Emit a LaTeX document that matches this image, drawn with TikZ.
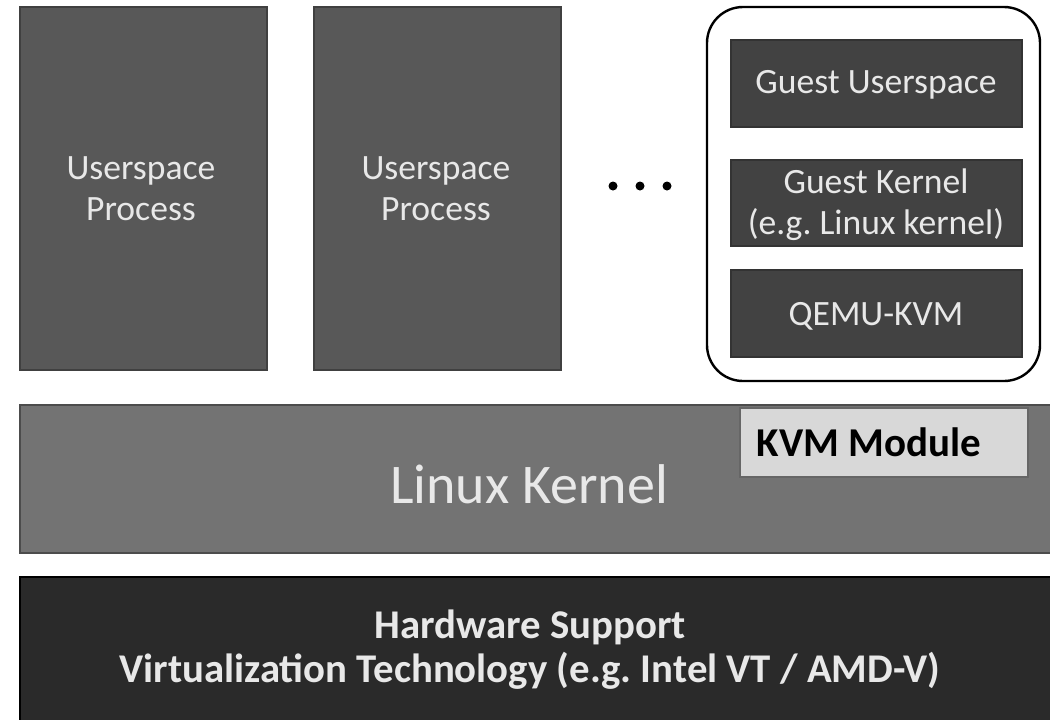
\documentclass[tikz,border=0pt]{standalone}
\usepackage{fontspec}
\setmainfont{Carlito}
\frenchspacing
\definecolor{procgray}{RGB}{88,88,88}
\definecolor{guestgray}{RGB}{66,66,66}
\definecolor{kernelgray}{RGB}{115,115,115}
\definecolor{modgray}{RGB}{216,216,216}
\definecolor{hwgray}{RGB}{42,42,42}
\definecolor{txtgray}{RGB}{232,232,232}
\tikzset{
  procbox/.style={fill=procgray,draw=black!75,line width=0.6pt},
  guestbox/.style={fill=guestgray,draw=black!80,line width=0.6pt},
  lbl/.style={text=txtgray,align=center,font=\fontsize{17.8}{20.5}\selectfont},
}
\begin{document}
\begin{tikzpicture}[x=0.5pt,y=-0.5pt]
			\useasboundingbox (0,0) rectangle (1050,719);
			% userspace processes
			\draw[procbox] (20,7) rectangle (267,370);
			\draw[procbox] (314,7) rectangle (561,370);
			\node[lbl] (proc1) at (141,189) {Userspace\\Process};
			\node[lbl] (proc2) at (436,189) {Userspace\\Process};
			\foreach \x in {613,640,667}
				\fill[black] (\x,186) circle (4.5);
			% virtual machine
			\draw[line width=1.2pt,rounded corners=18pt] (707,7) rectangle (1040,381);
			\draw[guestbox] (731,40) rectangle (1022,127);
			\draw[guestbox] (731,160) rectangle (1022,246);
			\draw[guestbox] (731,270) rectangle (1022,357);
			\node[lbl] (guestuser) at (876,85) {Guest Userspace};
			\node[lbl] (guestkern) at (876,205) {Guest Kernel\\(e.g. Linux kernel)};
			\node[lbl] (qemu) at (876,316) {QEMU-KVM};
			% host kernel
			\draw[fill=kernelgray,draw=black!70,line width=0.6pt] (20,405) rectangle (1052,553);
			\draw[fill=modgray,draw=black!60,line width=0.6pt] (740,408) rectangle (1028,477);
			\node[lbl,font=\fontsize{28}{32}\selectfont] (kernel) at (529,484) {Linux Kernel};
			\node[font=\bfseries\fontsize{20.5}{22}\selectfont] (kvm) at (869,442) {KVM Module};
			% hardware
			\draw[fill=hwgray,draw=black,line width=0.6pt] (20,577) rectangle (1052,725);
			\node[lbl,font=\bfseries\fontsize{20.4}{22}\selectfont] (hw) at (530,650) {Hardware Support\\Virtualization Technology (e.g. Intel VT / AMD-V)};
		\end{tikzpicture}
\end{document}
